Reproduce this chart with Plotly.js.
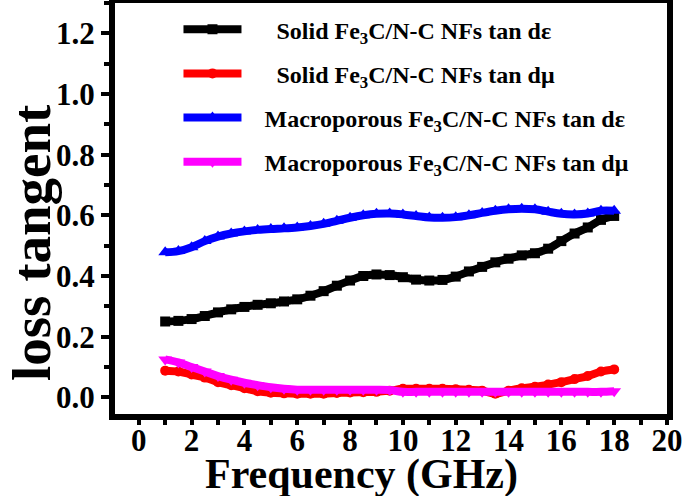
<!DOCTYPE html>
<html>
<head>
<meta charset="utf-8">
<script src="https://cdn.plot.ly/plotly-3.0.1.min.js"></script>
<style>
  html, body { margin: 0; padding: 0; background: #fff; }
  #plot { width: 685px; height: 496px; }
</style>
</head>
<body>
<div id="plot"></div>
<script>
// =========================
// Data
// =========================
const freq = [1, 1.5, 2, 2.5, 3, 3.5, 4, 4.5, 5, 5.5, 6, 6.5, 7, 7.5, 8, 8.5, 9, 9.5,
  10, 10.5, 11, 11.5, 12, 12.5, 13, 13.5, 14, 14.5, 15, 15.5, 16, 16.5, 17, 17.5, 18];

const solidEps = [0.250, 0.252, 0.258, 0.268, 0.280, 0.290, 0.298, 0.305, 0.310, 0.316,
  0.323, 0.335, 0.350, 0.368, 0.385, 0.400, 0.405, 0.403, 0.396, 0.388, 0.385, 0.387,
  0.398, 0.415, 0.430, 0.445, 0.457, 0.468, 0.475, 0.490, 0.515, 0.540, 0.560, 0.585, 0.598];

const solidMu = [0.088, 0.085, 0.075, 0.065, 0.050, 0.040, 0.030, 0.020, 0.015, 0.013,
  0.012, 0.012, 0.012, 0.014, 0.016, 0.017, 0.018, 0.022, 0.028, 0.028, 0.028, 0.028,
  0.027, 0.025, 0.022, 0.012, 0.022, 0.030, 0.035, 0.042, 0.050, 0.060, 0.070, 0.085, 0.092];

const macroEps = [0.478, 0.482, 0.495, 0.515, 0.530, 0.540, 0.547, 0.552, 0.555, 0.557,
  0.560, 0.565, 0.572, 0.582, 0.592, 0.600, 0.605, 0.606, 0.603, 0.598, 0.593, 0.592,
  0.594, 0.600, 0.608, 0.615, 0.620, 0.622, 0.620, 0.612, 0.605, 0.603, 0.606, 0.615, 0.615];

const macroMu = [0.125, 0.115, 0.100, 0.085, 0.070, 0.058, 0.048, 0.040, 0.033, 0.028,
  0.025, 0.025, 0.025, 0.025, 0.025, 0.025, 0.025, 0.024, 0.018, 0.018, 0.018, 0.018,
  0.018, 0.018, 0.018, 0.018, 0.018, 0.018, 0.018, 0.018, 0.018, 0.018, 0.018, 0.018, 0.020];

const seriesNames = [
  '\u00a0\u00a0\u00a0\u00a0\u00a0Solid Fe<sub>3</sub>C/N-C NFs tan dε',
  '\u00a0\u00a0\u00a0\u00a0\u00a0Solid Fe<sub>3</sub>C/N-C NFs tan dμ',
  '\u00a0\u00a0\u00a0Macroporous Fe<sub>3</sub>C/N-C NFs tan dε',
  '\u00a0\u00a0\u00a0Macroporous Fe<sub>3</sub>C/N-C NFs tan dμ'
];

// =========================
// Plot
// =========================
const serif = 'Liberation Serif, Times New Roman, serif';

function makeTrace(y, name, color, symbol, size) {
  return {
    type: 'scatter',
    mode: 'lines+markers',
    x: freq,
    y: y,
    name: name,
    legendgroup: name,
    line: { color: color, width: 8, shape: 'spline' },
    marker: { color: color, symbol: symbol, size: size },
    hoverinfo: 'none'
  };
}

const data = [
  makeTrace(solidEps, seriesNames[0], '#000000', 'square', 10),
  makeTrace(solidMu, seriesNames[1], '#ff0000', 'circle', 10),
  makeTrace(macroEps, seriesNames[2], '#0000ff', 'triangle-up', 12),
  makeTrace(macroMu, seriesNames[3], '#ff00ff', 'triangle-down', 12)
];

const axisCommon = {
  showline: true,
  linewidth: 6,
  linecolor: '#000',
  mirror: true,
  showgrid: false,
  zeroline: false,
  ticks: 'outside',
  ticklen: 8,
  tickwidth: 4,
  tickcolor: '#000',
  tickfont: { family: serif, size: 31, weight: 'bold', color: '#000' }
};

const layout = {
  width: 685,
  height: 496,
  margin: { l: 115, r: 18, t: 3, b: 82 },
  paper_bgcolor: '#fff',
  plot_bgcolor: '#fff',
  showlegend: true,
  legend: {
    x: 0.115,
    y: 0.99,
    xanchor: 'left',
    yanchor: 'top',
    bgcolor: 'rgba(0,0,0,0)',
    itemwidth: 58,
    tracegroupgap: 10,
    font: { family: serif, size: 24, weight: 'bold', color: '#000' }
  },
  xaxis: Object.assign({}, axisCommon, {
    range: [-0.9, 20],
    tickmode: 'linear',
    tick0: 0,
    dtick: 2,
    ticklen: 5,
    ticklabelstandoff: -11,
    minor: { dtick: 1, ticks: 'outside', ticklen: 5, tickwidth: 4, tickcolor: '#000' }
  }),
  yaxis: Object.assign({}, axisCommon, {
    range: [-0.055, 1.3],
    tickmode: 'linear',
    tick0: 0,
    dtick: 0.2,
    tickformat: '.1f',
    minor: { dtick: 0.1, ticks: 'outside', ticklen: 5, tickwidth: 4, tickcolor: '#000' }
  }),
  annotations: [
    {
      text: 'Frequency (GHz)',
      xref: 'paper', yref: 'paper',
      x: 0.447, y: -0.148,
      xanchor: 'center', yanchor: 'middle',
      showarrow: false,
      font: { family: serif, size: 42, weight: 'bold', color: '#000' }
    },
    {
      text: 'loss tangent',
      xref: 'paper', yref: 'paper',
      x: -0.152, y: 0.416,
      xanchor: 'center', yanchor: 'middle',
      textangle: -90,
      showarrow: false,
      font: { family: serif, size: 55, weight: 'bold', color: '#000' }
    }
  ]
};

Plotly.newPlot('plot', data, layout, { displayModeBar: false, staticPlot: true });
</script>
</body>
</html>
